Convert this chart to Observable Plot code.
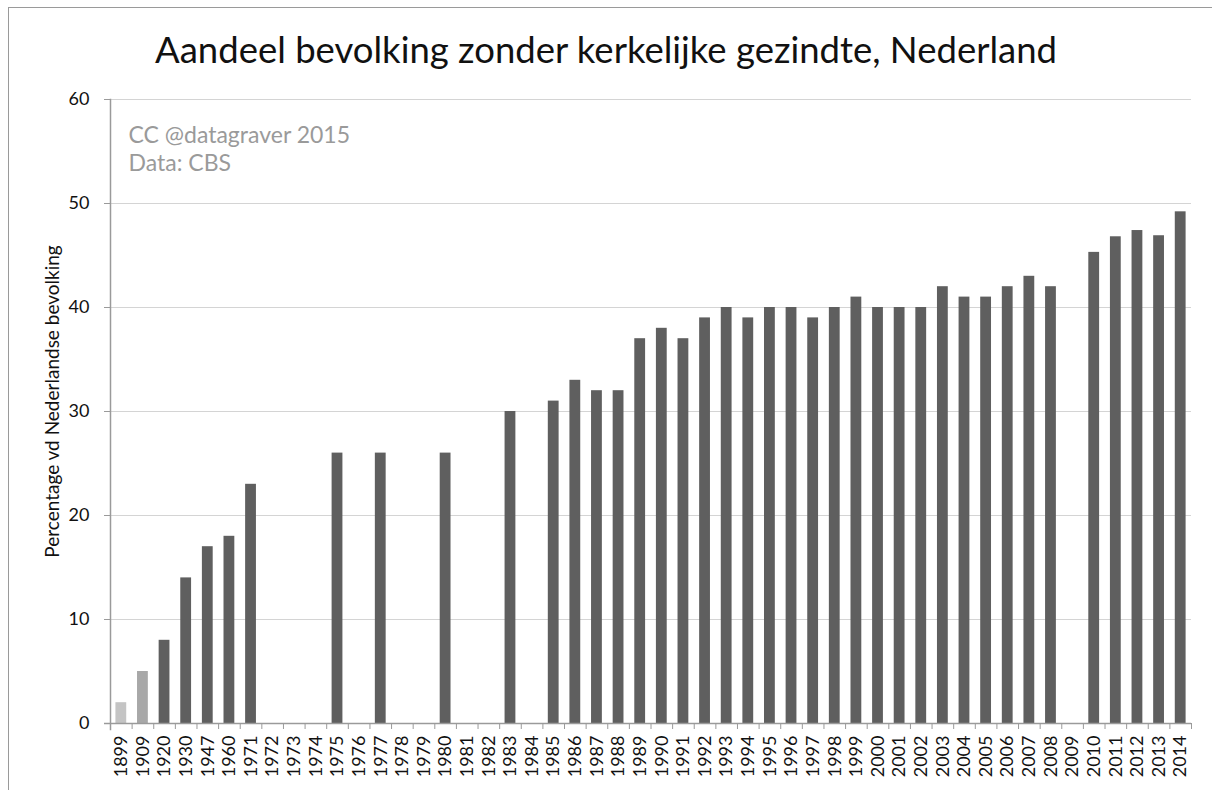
<!DOCTYPE html>
<html><head><meta charset="utf-8">
<script src="https://cdn.jsdelivr.net/npm/d3@7"></script>
<script src="https://cdn.jsdelivr.net/npm/@observablehq/plot@0.6"></script>
<style>
body{margin:0;background:#fff;font-family:Lato,"Noto Sans",sans-serif;}
#wrap{position:relative;width:1212px;height:790px;overflow:hidden;background:#fff;}
#frame{position:absolute;z-index:5;left:8px;top:7px;width:1300px;height:900px;border-left:1.5px solid #9a9a9a;border-top:1.5px solid #9a9a9a;pointer-events:none}
#title{position:absolute;left:0;top:28px;width:1212px;line-height:42px;text-align:center;font-size:36.5px;color:#111;}
#chart{position:absolute;left:0;top:80px;}
</style>
</head><body>
<div id="wrap"><div id="chart"></div><div id="title">Aandeel bevolking zonder kerkelijke gezindte, Nederland</div><div id="frame"></div></div>
<script>
const years = ["1899","1909","1920","1930","1947","1960","1971","1972","1973","1974","1975","1976","1977","1978","1979","1980","1981","1982","1983","1984","1985","1986","1987","1988","1989","1990","1991","1992","1993","1994","1995","1996","1997","1998","1999","2000","2001","2002","2003","2004","2005","2006","2007","2008","2009","2010","2011","2012","2013","2014"];
const values = [2,5,8,14,17,18,23,null,null,null,26,null,26,null,null,26,null,null,30,null,31,33,32,32,37,38,37,39,40,39,40,40,39,40,41,40,40,40,42,41,41,42,43,42,null,45.3,46.8,47.4,46.9,49.2];
const yTicks = [0,10,20,30,40,50,60];
const yLabel = "Percentage vd Nederlandse bevolking";
const note = "CC @datagraver 2015\nData: CBS";

const data = years.map((y,i)=>({year:y, value:values[i]}));
const W = 1212, H = 710, ML = 110, MR = 21, MT = 19, MB = 67;
const step = (W - ML - MR) / years.length;
const barFill = d => d.year === "1899" ? "#c4c4c4" : d.year === "1909" ? "#a8a8a8" : "#5f5f5f";

const chart = Plot.plot({
  width: W, height: H,
  marginLeft: ML, marginRight: MR, marginTop: MT, marginBottom: MB,
  style: {fontFamily: "Lato, 'Noto Sans', sans-serif", color: "#111", background: "#fff"},
  x: {type: "band", domain: years, paddingInner: 0.5, paddingOuter: 0.25},
  y: {domain: [0, 60]},
  marks: [
    Plot.gridY(yTicks.filter(t=>t>0), {stroke: "#d4d4d4", strokeOpacity: 1, strokeWidth: 1.2}),
    Plot.barY(data.filter(d=>d.value!=null), {x: "year", y: "value", fill: barFill}),
    Plot.ruleY([0], {stroke: "#9a9a9a", strokeWidth: 1.5, insetLeft: -6}),
    Plot.frame({anchor: "left", stroke: "#9a9a9a", strokeWidth: 1.5, insetBottom: -6}),
    Plot.axisY({ticks: yTicks, tickSize: 6, tickPadding: 15, fontSize: 18, stroke: "#9a9a9a", label: null}),
    Plot.text([yLabel], {frameAnchor: "left", textAnchor: "middle", rotate: -90, dx: -58, dy: -10, fontSize: 19, fill: "#111"}),
    Plot.axisX({tickSize: 0, tickPadding: 12, tickRotate: -90, fontSize: 18, label: null}),
    Plot.axisX({tickSize: 6, tickFormat: null, dx: -step/2, stroke: "#9a9a9a", label: null}),
    Plot.axisX({ticks: [years[years.length-1]], tickSize: 6, tickFormat: null, dx: step/2, stroke: "#9a9a9a", label: null}),
    Plot.text([note], {frameAnchor: "top-left", textAnchor: "start", lineAnchor: "top", dx: 18, dy: 24, fontSize: 23, lineHeight: 1.22, fill: "#9a9a9a"})
  ]
});
document.getElementById("chart").appendChild(chart);
</script>
</body></html>
